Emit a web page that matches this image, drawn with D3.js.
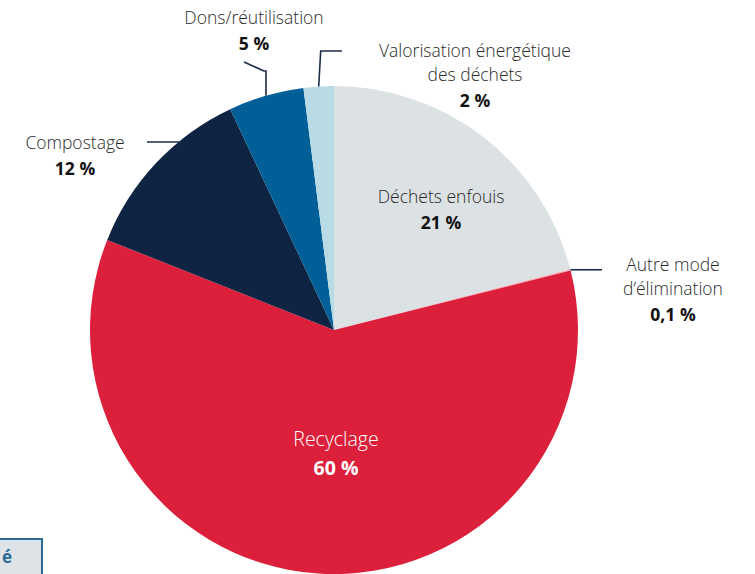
<!DOCTYPE html>
<html><head><meta charset="utf-8">
<script src="https://cdn.jsdelivr.net/npm/d3@7"></script>
<style>body{margin:0;background:#fff}svg{display:block}</style>
</head><body>
<svg id="c" width="755" height="574"></svg>
<script>
const categories = ["Déchets enfouis","Autre mode d’élimination","Recyclage","Compostage","Dons/réutilisation","Valorisation énergétique des déchets"];
const values = [21, 0.1, 60, 12, 5, 2];
const valueLabels = ["21 %","0,1 %","60 %","12 %","5 %","2 %"];
const colors = ["#dce1e4","#f2b9c6","#dc1f3a","#0e2442","#015f97","#b8dbe6"];

const svg = d3.select("#c");
const cx = 334, cy = 330, R = 244;
const FONT = "'Open Sans', Lato, sans-serif";

const pie = d3.pie().sort(null).value(d => d)(values);
const arc = d3.arc().innerRadius(0).outerRadius(R);
const g = svg.append("g").attr("transform", `translate(${cx},${cy})`);
g.selectAll("path").data(pie).join("path")
  .attr("d", arc).attr("fill", (d,i) => colors[i]);

const edge = (i, frac, r) => { const a = pie[i].startAngle + (pie[i].endAngle - pie[i].startAngle) * frac; return [cx + r*Math.sin(a), cy - r*Math.cos(a)]; };
const lineC = "#1b2d48";
function leader(pts){ svg.append("path").attr("d", d3.line()(pts)).attr("fill","none").attr("stroke", lineC).attr("stroke-width",1.6); }
let p;
p = edge(4, 0.5, R); leader([[244,62],[264,71],[p[0], 71],[p[0], p[1]]]);
p = edge(5, 0.5, R); leader([[342,51],[p[0]+2,51],[p[0], p[1]]]);
p = edge(1, 0.5, R); leader([[p[0],p[1]],[602,p[1]]]);
leader([[147,142],[182,142]]);

function label(x, y, lines, val, fill, bfill, fs){
  fs = fs || 17.5;
  const lh = fs * 1.36;
  const t = svg.append("text").attr("text-anchor","middle").attr("font-family",FONT).attr("font-size",fs);
  lines.forEach((l,k) => t.append("tspan").attr("x",x).attr("y",y + k*lh).attr("fill",fill).attr("font-weight",300).text(l));
  t.append("tspan").attr("x",x).attr("y",y + lines.length*lh + 2).attr("fill",bfill).attr("font-weight",700).text(val);
}
label(254, 24, ["Dons/réutilisation"], valueLabels[4], "#2a2a2a", "#111");
label(475, 57, ["Valorisation énergétique","des déchets"], valueLabels[5], "#2a2a2a", "#111");
label(441, 203, ["Déchets enfouis"], valueLabels[0], "#2a2a2a", "#111");
label(673, 271, ["Autre mode","d’élimination"], valueLabels[1], "#2a2a2a", "#111");
label(75, 149, ["Compostage"], valueLabels[3], "#2a2a2a", "#111");
label(336, 446, ["Recyclage"], valueLabels[2], "#fff", "#fff", 19.5);

svg.append("rect").attr("x",-20).attr("y",539).attr("width",62).attr("height",60)
  .attr("fill","#dde3e6").attr("stroke","#2d6a98").attr("stroke-width",2);
svg.append("text").attr("x",2).attr("y",563).attr("text-anchor","start").attr("font-family",FONT)
  .attr("font-size",17).attr("font-weight",700).attr("fill","#2d6a98").text("é");
</script>
</body></html>
